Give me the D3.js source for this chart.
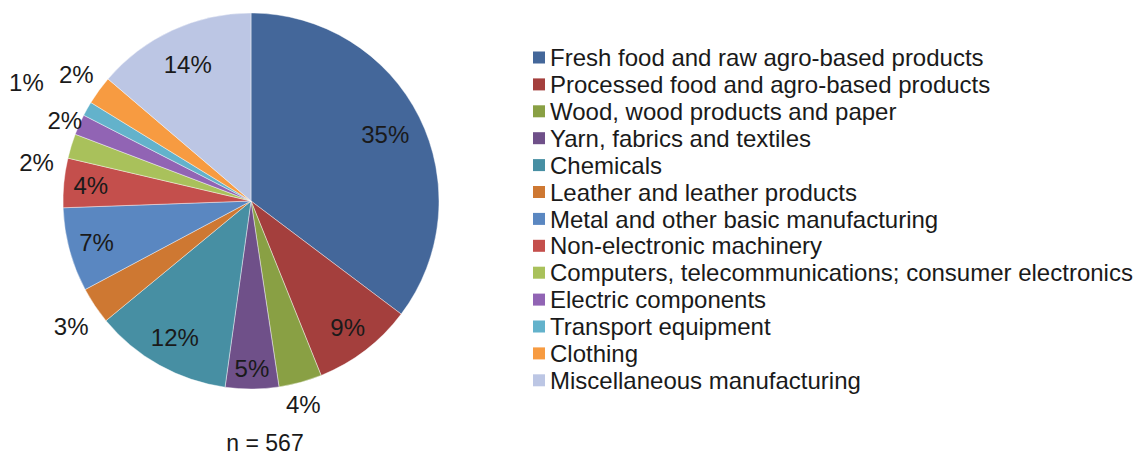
<!DOCTYPE html>
<html>
<head>
<meta charset="utf-8">
<script src="https://cdn.jsdelivr.net/npm/d3@7/dist/d3.min.js"></script>
<style>
  html, body { margin: 0; padding: 0; background: #fff; }
  svg { display: block; font-family: "Liberation Sans", Arial, sans-serif; }
</style>
</head>
<body>
<svg id="chart" width="1135" height="456"></svg>
<script>
// Sectors and number of firms in each (n = 567)
const categories = [
  "Fresh food and raw agro-based products",
  "Processed food and agro-based products",
  "Wood, wood products and paper",
  "Yarn, fabrics and textiles",
  "Chemicals",
  "Leather and leather products",
  "Metal and other basic manufacturing",
  "Non-electronic machinery",
  "Computers, telecommunications; consumer electronics",
  "Electric components",
  "Transport equipment",
  "Clothing",
  "Miscellaneous manufacturing"
];
const counts = [200, 49, 21, 26, 67, 18, 41, 24, 12, 10, 7, 14, 78];

const colors = [
  "#44679A", "#A43F3D", "#89A044", "#6F5089", "#478FA3", "#CE7832", "#5A87C1",
  "#C44F4C", "#A9C15B", "#9164B4", "#63B2CB", "#F79B41", "#BCC6E4"
];

// Label placement: distance from centre, plus a small angular shift (degrees)
// so the crowded outside labels of the thin slices do not collide
const labelRadius = [150, 159, 210, 167, 156, 219, 160, 161, 218, 203, 254, 216, 151];
const labelShift  = [0, 0, 0.8, 0, 0, -1, 0, 0, -6.7, -0.5, -1.5, 0, 0];

const svg = d3.select("#chart");
const total = d3.sum(counts);
const cx = 251, cy = 201, R = 188;

const pie = d3.pie().sort(null).value(d => d)
  .startAngle(0).endAngle(2 * Math.PI);
const arcs = pie(counts);
const arc = d3.arc().innerRadius(0).outerRadius(R);

const g = svg.append("g").attr("transform", `translate(${cx},${cy})`);

g.selectAll("path.slice")
  .data(arcs)
  .join("path")
  .attr("class", "slice")
  .attr("d", arc)
  .attr("fill", (d, i) => colors[i])
  .attr("stroke", "#ffffff")
  .attr("stroke-width", 0.6)
  .attr("stroke-opacity", 0.7);

const pct = v => Math.round(v / total * 100) + "%";

g.selectAll("text.lbl")
  .data(arcs)
  .join("text")
  .attr("class", "lbl")
  .attr("transform", (d, i) => {
    const a = (d.startAngle + d.endAngle) / 2 + labelShift[i] * Math.PI / 180;
    const r = labelRadius[i];
    return `translate(${r * Math.sin(a)},${-r * Math.cos(a)})`;
  })
  .attr("text-anchor", "middle")
  .attr("dy", "0.36em")
  .attr("font-size", 24)
  .attr("fill", "#1a1a1a")
  .text(d => pct(d.value));

svg.append("text")
  .attr("x", 265).attr("y", 451)
  .attr("text-anchor", "middle")
  .attr("font-size", 23)
  .attr("fill", "#1a1a1a")
  .text("n = " + total);

// Legend
const lg = svg.append("g").attr("transform", "translate(533,57.5)");
const rowH = 26.9;
const rows = lg.selectAll("g.row")
  .data(categories)
  .join("g")
  .attr("class", "row")
  .attr("transform", (d, i) => `translate(0,${i * rowH})`);
rows.append("rect")
  .attr("x", 0).attr("y", -6)
  .attr("width", 12).attr("height", 12)
  .attr("fill", (d, i) => colors[i]);
rows.append("text")
  .attr("x", 17).attr("y", 0)
  .attr("dy", "0.36em")
  .attr("font-size", 24)
  .attr("fill", "#1a1a1a")
  .text(d => d);
</script>
</body>
</html>
